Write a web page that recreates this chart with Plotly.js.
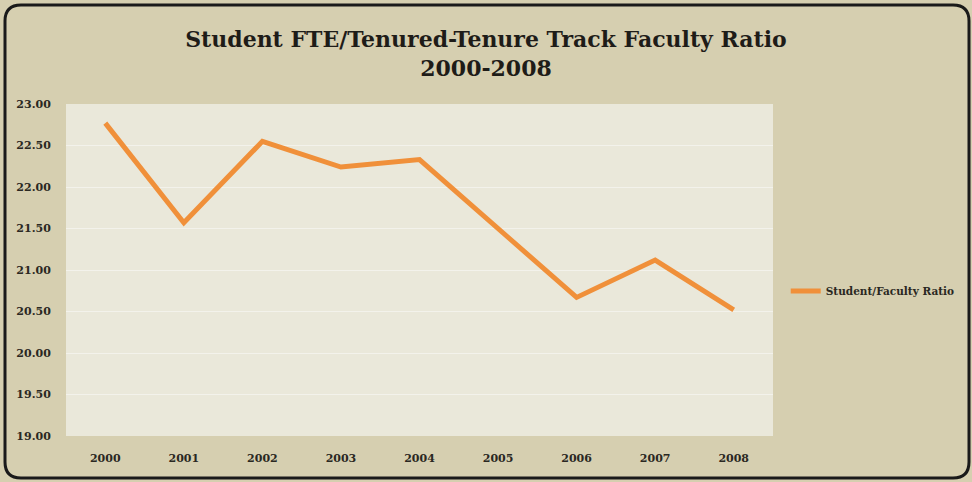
<!DOCTYPE html>
<html>
<head>
<meta charset="utf-8">
<script src="https://cdn.plot.ly/plotly-3.0.1.min.js"></script>
<style>
html,body{margin:0;padding:0;background:#ffffff;}
#chart{width:972px;height:482px;}
</style>
</head>
<body>
<div id="chart"></div>
<script>
// Data
const years = ["2000","2001","2002","2003","2004","2005","2006","2007","2008"];
const ratio = [22.77, 21.57, 22.55, 22.24, 22.33, 21.50, 20.67, 21.12, 20.52];
const yTickVals = [19.0, 19.5, 20.0, 20.5, 21.0, 21.5, 22.0, 22.5, 23.0];
const yTickText = ["19.00","19.50","20.00","20.50","21.00","21.50","22.00","22.50","23.00"];
const seriesName = "Student/Faculty Ratio";
const titleText = "Student FTE/Tenured-Tenure Track Faculty Ratio<br>2000-2008";

const serif = "'DejaVu Serif', 'Liberation Serif', serif";

// Rounded frame in paper coordinates
const L = 66, R = 773, T = 104, B = 436;
const px = v => (v - L) / (R - L);
const py = v => (B - v) / (B - T);
const fx0 = 5, fx1 = 969, fy0 = 5, fy1 = 478, r = 16;
const framePath =
  "M " + px(fx0 + r) + "," + py(fy0) +
  " L " + px(fx1 - r) + "," + py(fy0) +
  " Q " + px(fx1) + "," + py(fy0) + " " + px(fx1) + "," + py(fy0 + r) +
  " L " + px(fx1) + "," + py(fy1 - r) +
  " Q " + px(fx1) + "," + py(fy1) + " " + px(fx1 - r) + "," + py(fy1) +
  " L " + px(fx0 + r) + "," + py(fy1) +
  " Q " + px(fx0) + "," + py(fy1) + " " + px(fx0) + "," + py(fy1 - r) +
  " L " + px(fx0) + "," + py(fy0 + r) +
  " Q " + px(fx0) + "," + py(fy0) + " " + px(fx0 + r) + "," + py(fy0) + " Z";

const trace = {
  x: years,
  y: ratio,
  type: "scatter",
  mode: "lines",
  name: seriesName,
  line: {color: "#f0903a", width: 5}
};

const layout = {
  width: 972,
  height: 482,
  margin: {l: L, r: 972 - R, t: T, b: 482 - B, autoexpand: false},
  paper_bgcolor: "#d6cfb0",
  plot_bgcolor: "#eae8da",
  title: {
    text: "<b>" + titleText + "</b>",
    font: {family: serif, size: 22, color: "#1e1c18"},
    x: 0.5, xanchor: "center",
    y: 0.902, yanchor: "middle"
  },
  xaxis: {
    type: "category",
    range: [-0.5, 8.5],
    showgrid: false,
    zeroline: false,
    showline: false,
    ticks: "outside",
    ticklen: 12,
    tickcolor: "rgba(0,0,0,0)",
    tickfont: {family: serif, size: 11, color: "#2a2822", weight: "bold"}
  },
  yaxis: {
    range: [19, 23],
    tickvals: yTickVals,
    ticktext: yTickText,
    showgrid: true,
    gridcolor: "rgba(255,255,255,0.45)",
    gridwidth: 1,
    zeroline: false,
    showline: false,
    ticks: "outside",
    ticklen: 12,
    tickcolor: "rgba(0,0,0,0)",
    tickfont: {family: serif, size: 11, color: "#2a2822", weight: "bold"}
  },
  showlegend: true,
  legend: {
    x: 1.018, xanchor: "left",
    y: py(291), yanchor: "middle",
    bgcolor: "rgba(0,0,0,0)",
    font: {family: serif, size: 10.5, color: "#2a2822", weight: "bold"},
    itemwidth: 30
  },
  shapes: [{
    type: "path",
    xref: "paper", yref: "paper",
    path: framePath,
    line: {color: "#1a1a1a", width: 3},
    fillcolor: "rgba(0,0,0,0)",
    layer: "above"
  }]
};

Plotly.newPlot("chart", [trace], layout, {displayModeBar: false, staticPlot: true});
</script>
</body>
</html>
